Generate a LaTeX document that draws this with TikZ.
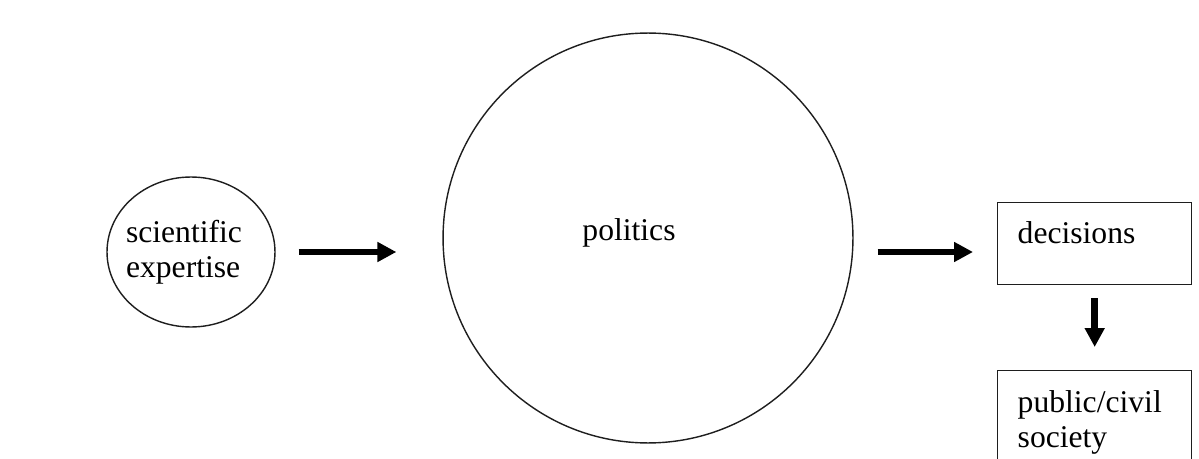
\documentclass[tikz,border=0pt]{standalone}
\usepackage{fontspec}
\setmainfont{Liberation Serif}
\usetikzlibrary{arrows.meta, positioning, shapes.geometric}
\definecolor{dline}{HTML}{1E1E1E}
\newcommand{\diagfont}{\fontsize{18pt}{20pt}\selectfont}
\tikzset{
  bubble/.style={draw=dline, line width=0.8pt, font=\diagfont, align=left, inner sep=2pt},
  tbox/.style={draw=dline, line width=0.8pt, rectangle, anchor=north west, font=\diagfont,
               align=left, text width=3.08cm, inner xsep=0.4cm, inner ysep=0.2cm},
  fatarr/.style={line width=0.13cm, -{Triangle[length=0.38cm, width=0.38cm]}},
}

\begin{document}
\begin{tikzpicture}[x=0.02cm, y=-0.02cm]
  \clip (0,0) rectangle (1199,459);
  \fill[white] (0,0) rectangle (1199,459);

  % expertise -> politics -> decisions -> public
  \node[bubble, ellipse, minimum width=3.36cm, minimum height=3cm,
        label={[font=\diagfont, align=left, xshift=-0.14cm]center:scientific\\expertise}] (expert) at (191,252) {};
  \node[bubble, circle, minimum size=8.2cm,
        label={[font=\diagfont, xshift=-0.38cm, yshift=0.1cm]center:politics}] (politics) at (648,238) {};
  \node[tbox, text height=0.62cm, text depth=0.62cm] (decide) at (997,202) {decisions};
  \node[tbox, text height=0.64cm, text depth=1.16cm] (public) at (997,370) {public/civil\\society};

  % arrows
  \draw[fatarr, shorten <=0.46cm, shorten >=0.92cm] (expert.east) -- (expert.east -| politics.west);
  \draw[fatarr, shorten <=0.48cm, shorten >=0.48cm] (politics.east |- expert.east) -- (decide.west |- expert.east);
  \draw[fatarr, shorten <=0.26cm, shorten >=0.46cm] (decide.south) -- (public.north);
\end{tikzpicture}
\end{document}
